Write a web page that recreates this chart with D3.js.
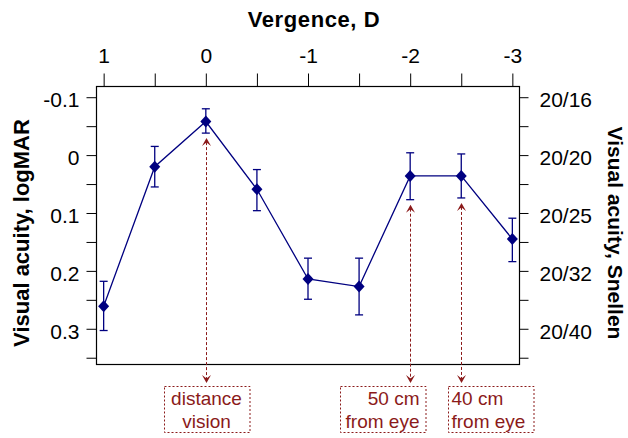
<!DOCTYPE html>
<html>
<head>
<meta charset="utf-8">
<script src="https://cdn.jsdelivr.net/npm/d3@7"></script>
<style>
  html, body { margin: 0; padding: 0; background: #fff; }
  svg { display: block; font-family: "Liberation Sans", Arial, sans-serif; }
</style>
</head>
<body>
<div id="chart"></div>
<script>
// vergence in dioptres, acuity in logMAR (lower = better)
var vergence = [1, 0.5, 0, -0.5, -1, -1.5, -2, -2.5, -3];
var logMAR   = [0.261, 0.020, -0.058, 0.059, 0.214, 0.227, 0.036, 0.036, 0.145];
var errTop   = [0.218, -0.015, -0.080, 0.025, 0.178, 0.178, -0.004, -0.002, 0.109];
var errBot   = [0.303, 0.055, -0.038, 0.096, 0.249, 0.276, 0.077, 0.074, 0.184];

var xTicks = [1, 0.5, 0, -0.5, -1, -1.5, -2, -2.5, -3];
var xTickLabels = ['1', '', '0', '', '-1', '', '-2', '', '-3'];
var yTicks = [-0.1, 0, 0.1, 0.2, 0.3];
var yTickLabels = ['-0.1', '0', '0.1', '0.2', '0.3'];
var yMinorTicks = [-0.05, 0.05, 0.15, 0.25, 0.35];
var snellenLabels = ['20/16', '20/20', '20/25', '20/32', '20/40'];

var noteVergence = [0, -2, -2.5];
var noteLines = [['distance', 'vision'], ['50 cm', 'from eye'], ['40 cm', 'from eye']];

var W = 628, H = 438;
// note: 'top' is a reserved window property, so prefix everything
var plotL = 96.5, plotR = 519.5, plotT = 86.5, plotB = 364.5;
var navy = '#000080', noteColor = '#8b1a1a';

var svg = d3.select('#chart').append('svg')
  .attr('width', W)
  .attr('height', H);

var x = d3.scaleLinear().domain([1.07, -3.07]).range([plotL, plotR]);
var y = d3.scaleLinear().domain([-0.1185, 0.3617]).range([plotT, plotB]);

// axes
var styleAxis = function styleAxis(g) {
  g.select('.domain').remove();
  g.selectAll('.tick line').attr('stroke', '#000').attr('stroke-width', 1);
  g.selectAll('.tick text')
    .attr('fill', '#000')
    .attr('font-size', 21)
    .attr('font-family', '"Liberation Sans", Arial, sans-serif');
};

svg.append('g')
  .attr('transform', 'translate(0,' + plotT + ')')
  .call(d3.axisTop(x).tickValues(xTicks)
    .tickFormat(function(d, i) { return xTickLabels[i]; })
    .tickSize(13).tickPadding(11))
  .call(styleAxis);

svg.append('g')
  .attr('transform', 'translate(' + plotL + ',0)')
  .call(d3.axisLeft(y).tickValues(yTicks)
    .tickFormat(function(d, i) { return yTickLabels[i]; })
    .tickSize(10).tickPadding(7))
  .call(styleAxis)
  .selectAll('.tick text').attr('dy', '0.45em');

svg.append('g')
  .attr('transform', 'translate(' + plotL + ',0)')
  .call(d3.axisLeft(y).tickValues(yMinorTicks).tickFormat('').tickSize(10))
  .call(styleAxis);

svg.append('g')
  .attr('transform', 'translate(' + plotR + ',0)')
  .call(d3.axisRight(y).tickValues(yTicks)
    .tickFormat(function(d, i) { return snellenLabels[i]; })
    .tickSize(9).tickPadding(11))
  .call(styleAxis)
  .selectAll('.tick text').attr('dy', '0.45em');

svg.append('g')
  .attr('transform', 'translate(' + plotR + ',0)')
  .call(d3.axisRight(y).tickValues(yMinorTicks).tickFormat('').tickSize(9))
  .call(styleAxis);

// plot box
svg.append('rect')
  .attr('x', plotL)
  .attr('y', plotT)
  .attr('width', plotR - plotL)
  .attr('height', plotB - plotT)
  .attr('fill', 'none')
  .attr('stroke', '#000')
  .attr('stroke-width', 1.2);

// titles
svg.append('text')
  .attr('x', 314)
  .attr('y', 26.5)
  .attr('text-anchor', 'middle')
  .attr('font-size', 22)
  .attr('font-weight', 'bold')
  .attr('letter-spacing', 0.6)
  .text('Vergence, D');

svg.append('text')
  .attr('transform', 'translate(29,233) rotate(-90)')
  .attr('text-anchor', 'middle')
  .attr('font-size', 22)
  .attr('font-weight', 'bold')
  .text('Visual acuity, logMAR');

svg.append('text')
  .attr('transform', 'translate(607.5,233) rotate(90)')
  .attr('text-anchor', 'middle')
  .attr('font-size', 21)
  .attr('font-weight', 'bold')
  .text('Visual acuity, Snellen');

// annotation arrows and boxes
var arrowHead = function arrowHead(cx, tipY, dir) {
  // dir = -1 points up, 1 points down
  var w = 4.5, h = 8, notch = 4.5;
  return 'M' + cx + ',' + tipY +
    'L' + (cx - w) + ',' + (tipY - dir * h) +
    'L' + cx + ',' + (tipY - dir * notch) +
    'L' + (cx + w) + ',' + (tipY - dir * h) + 'Z';
};

var boxW = 85.5, boxH = 46, boxTop = 386.5;
var boxOffset = [-boxW / 2, -71, -14];
var textAnchor = ['middle', 'end', 'start'];

noteVergence.forEach(function(v, k) {
  var i = vergence.indexOf(v);
  var cx = Math.round(x(v)) + 0.5;
  var tipTop = y(errBot[i]) + 5;
  var tipBot = boxTop - 3.5;
  var g = svg.append('g');

  g.append('line')
    .attr('x1', cx).attr('x2', cx)
    .attr('y1', tipTop + 4).attr('y2', tipBot - 4)
    .attr('stroke', noteColor)
    .attr('stroke-width', 1)
    .attr('stroke-dasharray', '3,2');
  g.append('path').attr('d', arrowHead(cx, tipTop, -1)).attr('fill', noteColor);
  g.append('path').attr('d', arrowHead(cx, tipBot, 1)).attr('fill', noteColor);

  var bx = cx + boxOffset[k];
  g.append('rect')
    .attr('x', Math.round(bx) + 0.5)
    .attr('y', boxTop)
    .attr('width', boxW)
    .attr('height', boxH)
    .attr('fill', 'none')
    .attr('stroke', noteColor)
    .attr('stroke-width', 1)
    .attr('stroke-dasharray', '2,2');

  var tx = textAnchor[k] === 'middle' ? bx + boxW / 2 :
    textAnchor[k] === 'end' ? bx + boxW - 5.5 : bx + 4;
  noteLines[k].forEach(function(s, j) {
    g.append('text')
      .attr('x', tx)
      .attr('y', 405 + j * 23)
      .attr('text-anchor', textAnchor[k])
      .attr('font-size', 19)
      .attr('fill', noteColor)
      .text(s);
  });
});

// data line, error bars, markers
var line = d3.line()
  .x(function(d, i) { return x(vergence[i]); })
  .y(function(d) { return y(d); });

svg.append('path')
  .datum(logMAR)
  .attr('d', line)
  .attr('fill', 'none')
  .attr('stroke', navy)
  .attr('stroke-width', 1.3);

var bars = svg.append('g').attr('stroke', navy).attr('stroke-width', 1.3);
vergence.forEach(function(v, i) {
  var cx = x(v);
  bars.append('line')
    .attr('x1', cx).attr('x2', cx)
    .attr('y1', y(errTop[i])).attr('y2', y(errBot[i]));
  bars.append('line')
    .attr('x1', cx - 4).attr('x2', cx + 4)
    .attr('y1', y(errTop[i])).attr('y2', y(errTop[i]));
  bars.append('line')
    .attr('x1', cx - 4).attr('x2', cx + 4)
    .attr('y1', y(errBot[i])).attr('y2', y(errBot[i]));
});

svg.append('g').selectAll('path')
  .data(logMAR)
  .enter().append('path')
  .attr('d', function(d, i) {
    var cx = x(vergence[i]), cy = y(d);
    return 'M' + cx + ',' + (cy - 6) + 'L' + (cx + 5.5) + ',' + cy +
      'L' + cx + ',' + (cy + 6) + 'L' + (cx - 5.5) + ',' + cy + 'Z';
  })
  .attr('fill', navy);
</script>
</body>
</html>
